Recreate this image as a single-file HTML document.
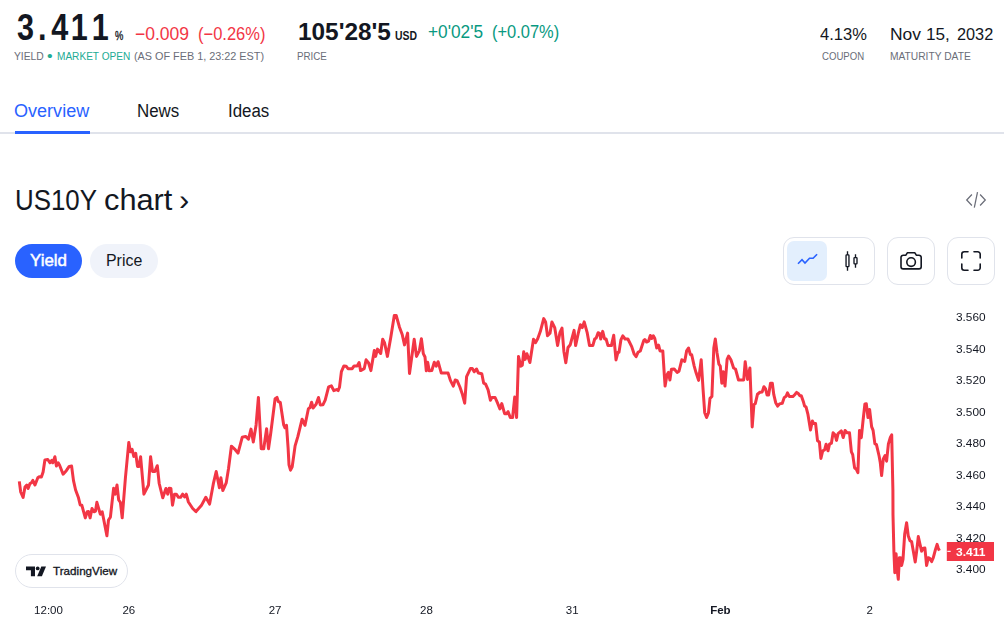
<!DOCTYPE html>
<html lang="en">
<head>
<meta charset="utf-8">
<title>US10Y</title>
<style>
*{box-sizing:border-box;margin:0;padding:0}
html,body{width:1004px;height:631px;background:#fff;overflow:hidden}
body{position:relative;font-family:"Liberation Sans",sans-serif;color:#131722}
.a{position:absolute;white-space:nowrap;line-height:1}
.ax{font-size:12px;color:#131722}
.btn{position:absolute;border:1px solid #e0e3eb;border-radius:8px;background:#fff}
</style>
</head>
<body>

<!-- tab rule -->
<div class="a" style="left:0;top:132px;width:1004px;height:2px;background:#e0e3eb"></div>
<div class="a" style="left:15px;top:131px;width:75px;height:3px;background:#2962ff"></div>

<!-- pills -->
<div class="a" id="p1" style="left:15px;top:244px;width:67px;height:34px;border-radius:17px;background:#2962ff;color:#fff;font-size:16px;font-weight:700"></div>
<div class="a" id="p2" style="left:90px;top:244px;width:68px;height:34px;border-radius:17px;background:#f0f3fa;font-size:16px"></div>

<!-- embed icon -->
<svg class="a" style="left:944px;top:180px" width="60" height="40" viewBox="944 180 60 40" fill="none" stroke="#6a6d78" stroke-width="1.25" stroke-linecap="butt" stroke-linejoin="miter">
<path d="M971.9 194.5 L966.7 200 L971.9 205.5"/><path d="M980.1 194.5 L985.3 200 L980.1 205.5"/><path d="M977.5 192.2 L974.3 207.6"/>
</svg>

<!-- toolbar -->
<div class="btn" style="left:783px;top:237px;width:92px;height:48px;border-radius:11px"></div>
<div class="a" style="left:787px;top:241px;width:40px;height:40px;border-radius:7px;background:#e3effd"></div>
<div class="btn" style="left:887px;top:237px;width:48px;height:48px;border-radius:11px"></div>
<div class="btn" style="left:947px;top:237px;width:48px;height:48px;border-radius:11px"></div>
<svg class="a" style="left:776px;top:230px" width="228" height="62" viewBox="776 230 228 62" fill="none" stroke-linecap="round" stroke-linejoin="round">
<!-- line icon -->
<path d="M798 263.7 L802 259.7 L805 263.1 L809.5 258.2 L813.1 258.2 L817.1 254.2" stroke="#2962ff" stroke-width="1.6" stroke-linecap="butt" stroke-linejoin="miter"/>
<!-- candles -->
<g stroke="#131722" stroke-width="1.35" stroke-linecap="butt">
<path d="M847.5 251.2 V255 M847.5 266.5 V270.7"/>
<rect x="846.05" y="254.9" width="2.9" height="11.7" rx="0.6"/>
<path d="M855.5 254.2 V257.6 M855.5 263.9 V267.7"/>
<rect x="854" y="257.6" width="3" height="6.3" rx="0.6"/>
</g>
<!-- camera -->
<g stroke="#131722" stroke-width="1.6">
<path d="M903.2 255.2 H905.9 L907.3 252.8 H914.9 L916.3 255.2 H919 A2.2 2.2 0 0 1 921.2 257.4 V266.7 A2.2 2.2 0 0 1 919 268.9 H903.2 A2.2 2.2 0 0 1 901 266.7 V257.4 A2.2 2.2 0 0 1 903.2 255.2 Z"/>
<circle cx="911.1" cy="262.1" r="4.3"/>
</g>
<!-- fullscreen -->
<g stroke="#131722" stroke-width="1.6">
<path d="M961.8 258 V254.3 A2.5 2.5 0 0 1 964.3 251.8 H968"/>
<path d="M974 251.8 H977.7 A2.5 2.5 0 0 1 980.2 254.3 V258"/>
<path d="M980.2 264 V267.7 A2.5 2.5 0 0 1 977.7 270.2 H974"/>
<path d="M968 270.2 H964.3 A2.5 2.5 0 0 1 961.8 267.7 V264"/>
</g>
</svg>

<!-- CHART -->
<svg id="chart" class="a" style="left:0;top:300px;will-change:transform" width="1004" height="331" viewBox="0 300 1004 331" font-family="'Liberation Sans',sans-serif">
<polyline id="line" fill="none" stroke="#f23645" stroke-width="3" stroke-linejoin="round" stroke-linecap="butt" points="19.3,481.4 20.7,492.0 23.1,497.5 25.0,487.0 26.8,485.0 28.1,488.5 30.0,483.5 31.4,482.8 32.8,480.4 35.0,485.0 37.8,477.8 39.2,476.8 41.4,477.0 43.1,472.0 44.9,460.0 47.8,459.5 49.9,462.8 51.7,460.4 52.8,462.8 54.9,456.7 56.4,466.0 58.2,462.8 59.6,465.2 63.1,474.2 66.3,470.7 69.2,466.4 71.6,466.1 73.5,480.6 75.6,490.0 78.5,497.8 80.2,505.0 81.8,505.2 85.3,517.9 87.2,511.8 88.5,511.6 90.1,517.9 92.0,508.5 94.0,511.8 95.5,511.1 96.9,502.3 100.3,514.2 102.2,511.8 106.9,535.8 108.5,520.0 110.4,517.2 113.6,488.3 115.1,494.2 117.0,485.0 118.7,500.0 120.4,502.4 122.2,517.8 125.4,478.0 128.8,442.4 130.4,451.8 132.1,449.3 133.8,456.4 135.7,453.3 137.5,466.4 138.9,466.4 140.6,456.7 143.9,494.2 148.5,485.0 150.6,456.7 152.5,471.4 154.9,471.4 157.3,465.7 159.2,483.5 162.8,497.8 165.9,488.5 167.8,494.2 169.2,488.2 170.9,488.5 172.5,505.2 174.5,494.2 176.3,494.2 178.5,497.3 180.6,497.3 182.7,494.2 184.6,497.0 186.3,494.2 188.4,502.0 192.7,508.5 196.0,511.6 201.3,505.6 205.8,497.3 209.6,504.1 213.3,483.9 216.2,471.5 219.4,487.7 220.9,477.8 222.8,490.6 226.2,482.9 228.5,468.7 231.4,446.2 235.2,449.7 238.0,453.1 242.2,437.3 245.6,436.4 248.5,439.2 251.0,429.1 253.3,442.1 256.1,424.9 258.4,397.4 261.2,448.7 263.7,448.7 266.6,428.7 268.5,448.7 270.7,433.5 275.1,398.7 277.0,397.4 278.4,401.7 280.3,402.5 283.7,424.9 285.0,427.8 286.5,425.3 288.1,447.8 289.0,464.9 290.5,470.2 292.2,466.8 295.1,445.9 297.9,436.4 302.1,419.2 305.0,425.3 308.4,408.8 309.9,407.8 311.6,402.2 313.1,408.0 316.0,404.4 318.5,397.5 320.3,405.0 322.9,404.8 325.2,400.1 328.6,386.8 331.3,385.8 333.8,390.6 336.6,389.6 338.1,390.6 339.5,387.2 341.4,371.6 343.9,365.9 346.1,366.2 348.0,368.7 352.2,368.7 354.1,365.9 357.2,365.9 359.1,362.6 360.6,370.6 364.2,368.7 366.1,359.8 368.6,363.0 370.9,370.6 374.3,350.6 375.6,356.4 377.5,349.1 380.7,353.5 382.7,339.2 384.6,343.0 387.4,356.4 390.8,337.3 394.3,315.5 396.2,315.5 399.4,326.9 402.2,334.5 404.5,344.9 407.6,333.1 409.5,373.5 414.2,339.2 416.5,356.4 419.4,350.6 421.4,338.8 423.3,353.6 425.0,357.0 426.3,370.8 427.7,362.2 429.2,370.8 431.8,370.5 434.3,362.3 436.2,366.1 438.1,361.7 441.3,373.1 448.1,373.1 450.4,380.4 453.3,386.1 455.2,380.0 457.1,380.7 459.9,387.0 462.2,393.7 464.7,403.2 466.6,376.6 470.4,368.6 472.3,368.6 474.2,371.8 476.5,369.0 478.4,373.1 481.8,373.7 483.7,383.2 485.6,384.2 488.1,389.9 490.4,400.3 491.9,397.5 495.1,397.5 497.6,403.2 499.9,408.9 501.8,403.6 504.6,413.7 506.5,413.7 508.1,411.7 510.3,417.5 512.6,417.5 514.7,397.1 516.6,417.5 518.5,356.6 520.8,366.1 522.3,365.2 523.7,351.8 525.2,359.4 526.9,353.7 529.9,362.5 533.5,339.2 535.6,342.6 537.7,338.8 540.3,331.6 543.7,318.6 545.6,321.9 547.5,335.8 550.0,333.3 551.9,321.9 554.7,327.6 557.6,345.6 560.0,332.3 562.0,328.1 563.9,351.4 565.8,362.8 568.0,347.5 570.3,344.7 574.1,330.4 575.6,345.6 578.5,332.3 580.4,324.7 582.3,327.6 584.2,321.9 587.1,332.3 589.5,345.6 592.8,345.6 594.7,339.0 596.2,338.0 598.1,332.7 599.6,333.3 600.7,339.0 602.7,331.4 604.6,339.0 606.1,339.0 608.0,345.6 611.4,345.6 613.7,335.2 616.0,359.9 617.9,352.3 619.0,352.3 620.9,339.9 622.8,335.8 625.1,339.0 627.9,339.0 631.7,346.6 634.2,354.2 636.1,356.7 638.0,352.3 640.3,351.0 643.7,340.6 644.8,339.5 646.6,342.0 648.5,341.2 650.3,335.5 651.8,338.5 653.3,335.7 654.8,338.5 656.7,348.0 658.6,345.2 660.0,350.9 662.8,350.9 664.3,374.7 665.1,386.1 667.0,374.7 668.5,372.4 669.9,380.0 671.4,369.3 674.2,369.0 677.1,372.4 679.0,371.2 681.8,359.8 684.7,361.4 686.6,350.9 688.5,348.0 690.4,354.7 691.7,354.7 694.2,366.1 696.1,372.8 698.6,380.4 701.2,359.8 703.1,389.9 704.7,412.7 706.6,417.5 708.5,412.7 710.0,398.4 711.9,396.5 713.8,348.0 715.3,338.9 717.0,352.8 718.9,364.2 720.3,366.1 721.8,383.2 723.3,371.8 725.0,386.1 727.1,359.4 728.6,356.0 730.9,359.8 733.6,368.0 735.5,369.0 738.5,380.0 743.7,380.0 745.2,361.7 747.5,379.4 749.9,368.0 752.2,426.9 753.9,404.7 755.3,403.6 757.5,394.2 759.9,392.3 762.2,391.9 763.9,386.7 765.6,389.0 767.1,395.1 768.6,395.1 770.5,383.3 772.3,383.3 773.8,394.7 775.7,402.7 777.6,406.1 779.5,403.9 782.3,403.3 784.2,397.6 786.1,396.2 787.5,392.8 789.4,396.6 792.8,396.6 794.7,394.7 796.6,392.4 798.5,393.8 799.8,395.7 801.3,395.7 803.3,401.4 804.6,406.1 806.1,407.1 808.0,414.7 810.5,429.9 812.4,421.0 813.7,423.6 815.6,423.6 817.5,440.7 819.4,441.9 820.9,458.4 822.7,450.8 824.6,449.9 826.1,444.2 828.0,450.8 829.5,444.2 831.4,443.2 833.1,432.8 835.0,434.7 836.5,440.4 838.1,433.7 841.3,430.9 843.2,437.5 845.1,430.5 847.0,432.8 849.5,432.8 851.4,451.8 852.7,454.6 854.6,467.9 856.1,468.9 857.9,472.6 859.5,430.4 861.3,437.7 863.0,421.0 864.9,404.0 866.3,403.8 868.0,417.6 869.6,409.5 871.6,426.6 873.1,430.4 874.9,443.9 876.4,444.4 879.1,456.0 880.3,462.8 881.6,475.5 883.3,459.0 885.1,455.5 886.6,461.2 888.4,443.9 890.4,437.2 891.7,434.9 892.9,490.0 893.0,515.0 893.9,551.6 894.8,572.7 896.1,553.8 897.0,568.3 898.3,579.3 899.4,557.7 900.5,557.7 901.6,565.5 903.0,559.4 904.7,533.9 906.6,522.8 908.3,536.1 910.0,540.7 911.6,541.6 913.6,552.7 915.2,562.1 916.6,551.6 918.3,536.6 919.9,543.8 921.6,551.1 923.3,548.3 924.9,548.1 926.6,565.5 928.3,557.7 929.7,558.3 931.6,561.6 933.3,557.7 935.5,549.4 937.1,544.4 938.3,548.3 939.4,550.7"/>
<text x="956" y="321.4" font-size="11.5" fill="#131722" textLength="29.6" lengthAdjust="spacingAndGlyphs">3.560</text>
<text x="956" y="352.8" font-size="11.5" fill="#131722" textLength="29.6" lengthAdjust="spacingAndGlyphs">3.540</text>
<text x="956" y="384.3" font-size="11.5" fill="#131722" textLength="29.6" lengthAdjust="spacingAndGlyphs">3.520</text>
<text x="956" y="415.7" font-size="11.5" fill="#131722" textLength="29.6" lengthAdjust="spacingAndGlyphs">3.500</text>
<text x="956" y="447.2" font-size="11.5" fill="#131722" textLength="29.6" lengthAdjust="spacingAndGlyphs">3.480</text>
<text x="956" y="478.6" font-size="11.5" fill="#131722" textLength="29.6" lengthAdjust="spacingAndGlyphs">3.460</text>
<text x="956" y="510.0" font-size="11.5" fill="#131722" textLength="29.6" lengthAdjust="spacingAndGlyphs">3.440</text>
<text x="956" y="541.5" font-size="11.5" fill="#131722" textLength="29.6" lengthAdjust="spacingAndGlyphs">3.420</text>
<text x="956" y="572.9" font-size="11.5" fill="#131722" textLength="29.6" lengthAdjust="spacingAndGlyphs">3.400</text>
<rect x="946.8" y="542" width="47.2" height="19" fill="#f23645"/>
<rect x="947.3" y="550.8" width="3.4" height="1.1" fill="#fff"/>
<text x="956" y="555.7" font-size="11.5" font-weight="700" fill="#fff" textLength="29.4" lengthAdjust="spacingAndGlyphs">3.411</text>
<text x="48.5" y="614" font-size="11.5" font-weight="400" fill="#131722" text-anchor="middle">12:00</text>
<text x="128.8" y="614" font-size="11.5" font-weight="400" fill="#131722" text-anchor="middle">26</text>
<text x="275.1" y="614" font-size="11.5" font-weight="400" fill="#131722" text-anchor="middle">27</text>
<text x="426.5" y="614" font-size="11.5" font-weight="400" fill="#131722" text-anchor="middle">28</text>
<text x="572.2" y="614" font-size="11.5" font-weight="400" fill="#131722" text-anchor="middle">31</text>
<text x="720.4" y="614" font-size="11.5" font-weight="700" fill="#131722" text-anchor="middle">Feb</text>
<text x="869.8" y="614" font-size="11.5" font-weight="400" fill="#131722" text-anchor="middle">2</text>
</svg>
<div class="a" style="left:15px;top:554px;width:113px;height:34px;border:1px solid #e0e3eb;border-radius:17px;background:#fff"></div>
<svg class="a" style="left:24px;top:564px" width="24" height="14" viewBox="24 564 24 14" fill="#131722">
<path d="M26 566.5 H35 V576.3 H30.9 V570.3 H26 Z"/>
<circle cx="37.7" cy="568.4" r="1.9"/>
<path d="M41.3 566.5 H46 L41.9 576.3 H37.2 Z"/>
</svg>
<!-- text -->
<div class="a" id="big" style="left:17.35px;top:9.9px;font-size:36px;font-weight:700;color:#131722;transform-origin:0 0;transform:scaleX(0.8500);font-kerning:none;letter-spacing:4.8px;">3<span style="letter-spacing:5.5px">.</span><span style="letter-spacing:2.8px">4</span>11</div>
<div class="a" id="pct" style="left:114.89px;top:29.7px;font-size:12.5px;font-weight:400;color:#131722;transform-origin:0 0;transform:scaleX(0.7471);-webkit-text-stroke:.35px #131722;">%</div>
<div class="a" id="chg1" style="left:135.03px;top:24.8px;font-size:18px;font-weight:400;color:#f23645;transform-origin:0 0;transform:scaleX(0.9741);">−0.009</div>
<div class="a" id="chg2" style="left:198.38px;top:24.8px;font-size:18px;font-weight:400;color:#f23645;transform-origin:0 0;transform:scaleX(0.9167);">(−0.26%)</div>
<div class="a" id="sub1" style="left:13.96px;top:50.6px;font-size:11px;font-weight:400;color:#6a6d78;transform-origin:0 0;transform:scaleX(0.9358);">YIELD</div>
<div class="a" id="dot" style="left:46.95px;top:48.9px;font-size:14.5px;font-weight:400;color:#22ab94;transform-origin:0 0;transform:scaleX(1.1025);">•</div>
<div class="a" id="sub2" style="left:56.66px;top:50.6px;font-size:11px;font-weight:400;color:#22ab94;transform-origin:0 0;transform:scaleX(0.9165);">MARKET OPEN</div>
<div class="a" id="sub3" style="left:134.00px;top:50.6px;font-size:11px;font-weight:400;color:#6a6d78;transform-origin:0 0;transform:scaleX(0.9849);">(AS OF FEB 1, 23:22 EST)</div>
<div class="a" id="price" style="left:298.48px;top:19.5px;font-size:24px;font-weight:700;color:#131722;transform-origin:0 0;transform:scaleX(1.0156);">105'28'5</div>
<div class="a" id="usd" style="left:394.96px;top:29.6px;font-size:12px;font-weight:700;color:#131722;transform-origin:0 0;transform:scaleX(0.8689);">USD</div>
<div class="a" id="pchg1" style="left:427.71px;top:22.8px;font-size:18px;font-weight:400;color:#089981;transform-origin:0 0;transform:scaleX(0.9586);">+0'02'5</div>
<div class="a" id="pchg2" style="left:491.55px;top:22.8px;font-size:18px;font-weight:400;color:#089981;transform-origin:0 0;transform:scaleX(0.9139);">(+0.07%)</div>
<div class="a" id="pricel" style="left:296.96px;top:50.6px;font-size:11px;font-weight:400;color:#6a6d78;transform-origin:0 0;transform:scaleX(0.8882);">PRICE</div>
<div class="a" id="coupon" style="left:820.28px;top:26.6px;font-size:16px;font-weight:400;color:#131722;transform-origin:0 0;transform:scaleX(1.0318);">4.13%</div>
<div class="a" id="couponl" style="left:821.68px;top:50.6px;font-size:11px;font-weight:400;color:#6a6d78;transform-origin:0 0;transform:scaleX(0.8734);">COUPON</div>
<div class="a" id="mat1" style="left:889.84px;top:26.6px;font-size:16px;font-weight:400;color:#131722;transform-origin:0 0;transform:scaleX(1.0889);">Nov</div>
<div class="a" id="mat2" style="left:925.60px;top:26.6px;font-size:16px;font-weight:400;color:#131722;transform-origin:0 0;transform:scaleX(1.0700);">15,</div>
<div class="a" id="mat3" style="left:957.19px;top:26.6px;font-size:16px;font-weight:400;color:#131722;transform-origin:0 0;transform:scaleX(1.0177);">2032</div>
<div class="a" id="matl" style="left:890.41px;top:50.6px;font-size:11px;font-weight:400;color:#6a6d78;transform-origin:0 0;transform:scaleX(0.9302);">MATURITY DATE</div>
<div class="a" id="t1" style="left:13.70px;top:102px;font-size:18px;font-weight:400;color:#2962ff;transform-origin:0 0;transform:scaleX(1.0027);">Overview</div>
<div class="a" id="t2" style="left:137.05px;top:102px;font-size:18px;font-weight:400;color:#131722;transform-origin:0 0;transform:scaleX(0.9396);">News</div>
<div class="a" id="t3" style="left:227.88px;top:102px;font-size:18px;font-weight:400;color:#131722;transform-origin:0 0;transform:scaleX(0.9381);">Ideas</div>
<div class="a" id="title1" style="left:14.61px;top:186.0px;font-size:28.8px;font-weight:400;color:#131722;transform-origin:0 0;transform:scaleX(0.8989);">US10Y</div>
<div class="a" id="title2" style="left:103.99px;top:186.0px;font-size:28.8px;font-weight:400;color:#131722;transform-origin:0 0;transform:scaleX(1.0679);">chart</div>
<div class="a" id="title3" style="left:179.01px;top:186.0px;font-size:28.8px;font-weight:400;color:#131722;transform-origin:0 0;transform:scaleX(1.0688);">›</div>
<div class="a" id="tv" style="left:52.54px;top:566.2px;font-size:11px;font-weight:400;color:#131722;transform-origin:0 0;transform:scaleX(1.0601);-webkit-text-stroke:.3px #131722;">TradingView</div>
<div class="a" id="p1t" style="left:29.74px;top:252.5px;font-size:16px;font-weight:400;color:#fff;transform-origin:0 0;transform:scaleX(1.0547);-webkit-text-stroke:.45px #fff;">Yield</div>
<div class="a" id="p2t" style="left:106.12px;top:252.5px;font-size:16px;font-weight:400;color:#131722;transform-origin:0 0;transform:scaleX(0.9944);">Price</div>
</body>
</html>
